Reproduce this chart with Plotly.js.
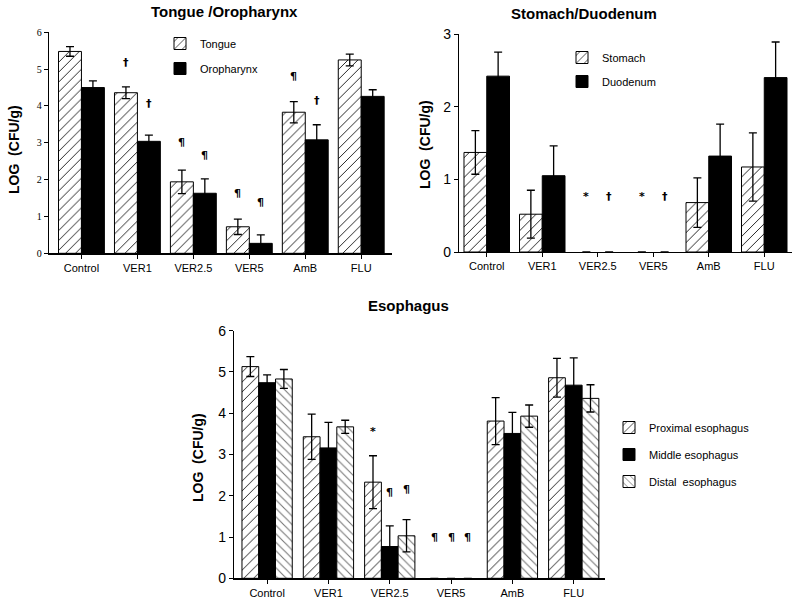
<!DOCTYPE html>
<html><head><meta charset="utf-8">
<script src="https://cdn.plot.ly/plotly-3.0.1.min.js"></script>
<style>html,body{margin:0;padding:0;background:#fff}</style>
</head><body><div id="chart" style="width:800px;height:605px"></div>
<script>
const categories = ["Control","VER1","VER2.5","VER5","AmB","FLU"];
// Tongue / Oropharynx
const tongue = [5.48,4.36,1.94,0.72,3.83,5.25];
const tongueErr = [0.13,0.16,0.32,0.21,0.29,0.16];
const oropharynx = [4.50,3.04,1.63,0.27,3.08,4.26];
const oropharynxErr = [0.18,0.17,0.39,0.23,0.41,0.18];
// Stomach / Duodenum
const stomach = [1.37,0.52,0,0,0.68,1.17];
const stomachErr = [0.30,0.33,0,0,0.34,0.47];
const duodenum = [2.42,1.05,0,0,1.32,2.40];
const duodenumErr = [0.33,0.41,0,0,0.44,0.49];
// Esophagus
const proximal = [5.13,3.43,2.33,0,3.81,4.86];
const proximalErr = [0.24,0.55,0.64,0,0.57,0.47];
const middle = [4.74,3.16,0.77,0,3.51,4.68];
const middleErr = [0.19,0.62,0.50,0,0.51,0.66];
const distal = [4.83,3.67,1.03,0,3.93,4.36];
const distalErr = [0.23,0.16,0.39,0,0.27,0.33];
// significance symbols and heights
const tongueSym = ["","†","¶","¶","¶",""];
const tongueSymY = [0,5.17,3.0,1.63,4.8,0];
const oroSym = ["","†","¶","¶","†",""];
const oroSymY = [0,4.08,2.66,1.39,4.15,0];
const stomachSym = ["","","*","*","",""];
const stomachSymY = [0,0,0.76,0.76,0,0];
const duodenumSym = ["","","†","†","",""];
const duodenumSymY = [0,0,0.76,0.76,0,0];
const proxSym = ["","","*","¶","",""];
const proxSymY = [0,0,3.55,0.98,0,0];
const midSym = ["","","¶","¶","",""];
const midSymY = [0,0,2.07,0.98,0,0];
const distSym = ["","","¶","¶","",""];
const distSymY = [0,0,2.16,0.98,0,0];

const AR = "Liberation Sans, Arial, sans-serif";
const SYM = "DejaVu Sans, sans-serif";
const hatch = {shape:"/", fgcolor:"#000", bgcolor:"#fff", size:7, solidity:0.12};
const dash = {shape:"\\", fgcolor:"#777", bgcolor:"#fff", size:6, solidity:0.18};
function err(a, y){return {type:"data", array:a.map((v,i)=> y[i]>0 ? v : null), visible:true, color:"#000", thickness:1.3, width:4};}
function bar(name, y, e, xa, ya, lg, color, pat){
  const m = {color: color, line:{color:"#000", width:y.map(v=> v>0 ? 1 : 0)}};
  if (pat) m.pattern = pat;
  return {type:"bar", name:name, x:categories, y:y, error_y:err(e, y), xaxis:xa, yaxis:ya,
    marker:m, legend:lg, legendgroup:name};
}
const data = [
  bar("Tongue", tongue, tongueErr, "x","y","legend","#fff",hatch),
  bar("Oropharynx", oropharynx, oropharynxErr, "x","y","legend","#000",null),
  bar("Stomach", stomach, stomachErr, "x2","y2","legend2","#fff",hatch),
  bar("Duodenum", duodenum, duodenumErr, "x2","y2","legend2","#000",null),
  bar("Proximal esophagus", proximal, proximalErr, "x3","y3","legend3","#fff",hatch),
  bar("Middle esophagus", middle, middleErr, "x3","y3","legend3","#000",null),
  bar("Distal\u00a0 esophagus", distal, distalErr, "x3","y3","legend3","#fff",dash)
];

const gapTop = 0.18;
function symAnns(syms, ys, off, xr, yr){
  const out=[];
  syms.forEach((s,i)=>{ if(s) out.push({x:i+off, y:ys[i], xref:xr, yref:yr, text:"<b>"+s+"</b>", showarrow:false,
    font:{family:SYM, size:11, color:"#000"}, yanchor:"middle"}); });
  return out;
}
const w2 = (1-gapTop)/2, w3 = (1-gapTop)/3;
let anns = [];
anns = anns.concat(symAnns(tongueSym,tongueSymY,-w2/2,"x","y"));
anns = anns.concat(symAnns(oroSym,oroSymY,w2/2,"x","y"));
anns = anns.concat(symAnns(stomachSym,stomachSymY,-w2/2,"x2","y2"));
anns = anns.concat(symAnns(duodenumSym,duodenumSymY,w2/2,"x2","y2"));
anns = anns.concat(symAnns(proxSym,proxSymY,-w3,"x3","y3"));
anns = anns.concat(symAnns(midSym,midSymY,0,"x3","y3"));
anns = anns.concat(symAnns(distSym,distSymY,w3,"x3","y3"));

function title(t,x,y){return {text:"<b>"+t+"</b>", x:x, y:y, xref:"paper", yref:"paper", showarrow:false, font:{family:AR,size:15,color:"#000"}, xanchor:"center", yanchor:"middle"};}
function ytitle(x,y){return {text:"<b>LOG\u00a0\u00a0(CFU/g)</b>", x:x, y:y, xref:"paper", yref:"paper", showarrow:false, textangle:-90, font:{family:AR,size:14,color:"#000"}, xanchor:"center", yanchor:"middle"};}
anns.push(title("Tongue /Oropharynx", 224/800, 1-12/605));
anns.push(title("Stomach/Duodenum", 584/800, 1-14/605));
anns.push(title("Esophagus", 408/800, 1-305/605));
anns.push(ytitle(14/800, 1-150/605));
anns.push(ytitle(425/800, 1-145/605));
anns.push(ytitle(198/800, 1-458/605));

function xax(dom, rng, anchor){return {domain:dom, range:rng, anchor:anchor, type:"category", showline:true, linecolor:"#000", linewidth:1.2,
  ticks:"outside", ticklen:4, tickcolor:"#000", showgrid:false, zeroline:false, tickfont:{family:AR,size:11,color:"#000"}};}
function yax(dom, rng, anchor, tf){return {domain:dom, range:rng, anchor:anchor, dtick:1, showline:true, linecolor:"#000", linewidth:1.2,
  ticks:"outside", ticklen:4, tickcolor:"#000", showgrid:false, zeroline:false, tickfont:tf};}
function leg(x,y,gap){return {x:x, y:y, xanchor:"left", yanchor:"top", xref:"paper", yref:"paper", bgcolor:"rgba(0,0,0,0)",
  font:{family:AR,size:11,color:"#000"}, traceorder:"grouped", tracegroupgap:gap};}

const layout = {
  width:800, height:605, margin:{l:0,r:0,t:0,b:0}, paper_bgcolor:"#fff", plot_bgcolor:"#fff",
  barmode:"group", bargap:gapTop, bargroupgap:0, showlegend:true,
  xaxis: xax([49/800,392/800],[-0.58,5.55],"y"),
  yaxis: yax([1-253.3/605,1-32.3/605],[0,6],"x",{family:"Liberation Serif, Times New Roman, serif",size:10,color:"#000"}),
  xaxis2: xax([459/800,792/800],[-0.5,5.5],"y2"),
  yaxis2: yax([1-252/605,1-34/605],[0,3],"x2",{family:AR,size:14,color:"#000"}),
  xaxis3: xax([234/800,605/800],[-0.54,5.51],"y3"),
  yaxis3: yax([1-578.3/605,1-330.7/605],[0,6],"x3",{family:AR,size:14,color:"#000"}),
  legend: leg(160/800, 1-29/605, 6),
  legend2: leg(562/800, 1-43/605, 5),
  legend3: leg(609/800, 1-413/605, 8),
  annotations: anns
};
Plotly.newPlot("chart", data, layout, {staticPlot:true, displayModeBar:false});
</script></body></html>
